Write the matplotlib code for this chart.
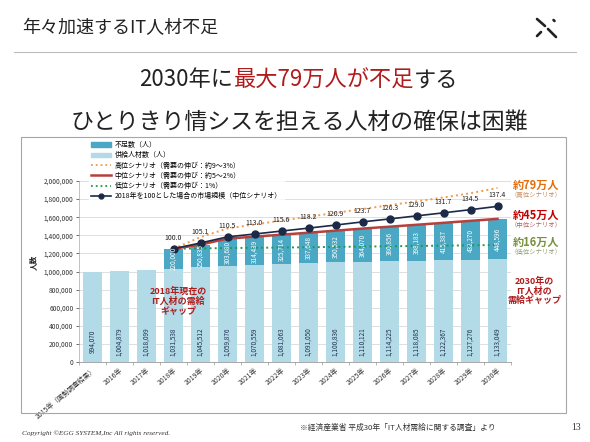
import matplotlib
matplotlib.use('Agg')
import matplotlib.pyplot as plt
from matplotlib.patches import Patch, Rectangle
from matplotlib.lines import Line2D
from matplotlib.ticker import FuncFormatter, FixedLocator

plt.rcParams['font.family'] = ['Noto Sans CJK JP', 'DejaVu Sans']

#data
years = ['2015年（国勢調査結果）', '2016年', '2017年', '2018年', '2019年', '2020年',
         '2021年', '2022年', '2023年', '2024年', '2025年', '2026年', '2027年',
         '2028年', '2029年', '2030年']
supply = [994070, 1004879, 1018099, 1031538, 1045512, 1059876, 1070559, 1081063,
          1091050, 1100836, 1110121, 1114225, 1118085, 1122367, 1127276, 1133049]
gap_start = 3   # shortage series starts at 2018
gap = [220000, 250835, 303680, 314439, 325714, 337648, 350532, 364070, 380856,
       398183, 415387, 432270, 448596]
high = [1251538, 1380000, 1475000, 1520000, 1562000, 1605000, 1648000, 1690000,
        1733000, 1775000, 1818000, 1865000, 1923000]
low = [1251538, 1255000, 1259000, 1262000, 1265000, 1268000, 1272000, 1275000,
       1279000, 1282000, 1286000, 1289000, 1293000]
market_idx = [100.0, 105.1, 110.5, 113.0, 115.6, 118.2, 120.9, 123.7, 126.3,
              129.0, 131.7, 134.5, 137.4]
market_base = 1251538   # 2018 = 100

#colors
c_gap = '#4aa8c4'
c_sup = '#b3dbe7'
c_high = '#f29a4a'
c_mid = '#b8403c'
c_low = '#1e9a50'
c_mkt = '#1c2a48'
c_red = '#b01c1c'

W, H = 590, 442
fig = plt.figure(figsize=(W / 100, H / 100), dpi=100)
def fx(px): return px / W
def fy(py): return 1 - py / H

#slide header
fig.text(fx(22), fy(28), '年々加速するIT人材不足', fontsize=13, color='#222', va='center')
fig.add_artist(Line2D([fx(14), fx(576)], [fy(52), fy(52)], color='#bbbbbb', lw=0.8))
for seg in [((537, 19), (545, 26)), ((553.5, 20), (554.5, 21)), ((537, 36), (541, 32)), ((548, 29), (556, 37))]:
    fig.add_artist(Line2D([fx(seg[0][0]), fx(seg[1][0])], [fy(seg[0][1]), fy(seg[1][1])],
                          color='#222', lw=1.9, solid_capstyle='round'))

#headline with red part
renderer = fig.canvas.get_renderer()
parts = [('2030年に', '#222'), ('最大79万人が不足', c_red), ('する', '#222')]
txts = [fig.text(0, fy(80), s, fontsize=16, color=c, va='center') for s, c in parts]
widths = [t.get_window_extent(renderer).width for t in txts]
x0 = 299 - sum(widths) / 2
for t, w in zip(txts, widths):
    t.set_x(fx(x0))
    x0 += w
fig.text(fx(299), fy(122), 'ひとりきり情シスを担える人材の確保は困難', fontsize=16.5,
         color='#222', ha='center', va='center')

#chart panel
fig.add_artist(Rectangle((fx(21), fy(413)), fx(545), 276 / H, transform=fig.transFigure,
                         fill=False, edgecolor='#a6a6a6', lw=0.8))

ax = fig.add_axes([fx(79), fy(362), fx(432), 181 / H])
x = list(range(len(years)))
xg = x[gap_start:]
ax.bar(x, supply, width=0.68, color=c_sup, zorder=2)
ax.bar(xg, gap, width=0.68, bottom=supply[gap_start:], color=c_gap, zorder=2)

mid = [s + g for s, g in zip(supply[gap_start:], gap)]
mkt = [market_base * v / 100 for v in market_idx]
ax.plot(xg, high, color=c_high, lw=1.4, ls=':', zorder=3)
ax.plot(xg, low, color=c_low, lw=1.4, ls=':', zorder=3)
ax.plot(xg, mid, color=c_mid, lw=1.8, zorder=4)
ax.plot(xg, mkt, color=c_mkt, lw=1.2, marker='o', ms=5, zorder=5)

for xi, v, m in zip(xg, market_idx, mkt):
    ax.annotate(f'{v:.1f}', (xi, m), xytext=(0, 5), textcoords='offset points',
                ha='center', va='bottom', fontsize=5, color='#222', zorder=6)
for xi, s in zip(x, supply):
    ax.text(xi, 225000, f'{s:,}', rotation=90, ha='center', va='center',
            fontsize=4.6, color='#1f3050', zorder=6)
for xi, s, g in zip(xg, supply[gap_start:], gap):
    ax.text(xi, s + g / 2, f'{g:,}', rotation=90, ha='center', va='center',
            fontsize=4.6, color='white', zorder=6)

ax.set_xlim(-0.5, len(years) - 0.5)
ax.set_ylim(0, 2000000)
ax.set_yticks(range(0, 2000001, 200000))
ax.yaxis.set_major_formatter(FuncFormatter(lambda v, p: f'{int(v):,}'))
ax.tick_params(axis='y', labelsize=4.8, colors='#333', length=2, width=0.5, pad=2)
ax.set_xticks(x)
ax.set_xticklabels(years, rotation=40, ha='right', rotation_mode='anchor', fontsize=4.9, color='#333')
ax.tick_params(axis='x', length=0, pad=3)
ax.xaxis.set_minor_locator(FixedLocator([i - 0.5 for i in range(len(years) + 1)]))
ax.tick_params(axis='x', which='minor', length=2, width=0.5, color='#999')
ax.grid(axis='y', color='#d9d9d9', lw=0.6, zorder=0)
ax.set_axisbelow(True)
for sp in ['top', 'right']:
    ax.spines[sp].set_visible(False)
ax.spines['left'].set_color('#aaaaaa')
ax.spines['bottom'].set_color('#999999')
ax.spines['left'].set_linewidth(0.5)
ax.spines['bottom'].set_linewidth(0.6)
fig.text(fx(33), fy(262), '人数', rotation=90, fontsize=5.5, fontweight='bold',
         ha='center', va='center', color='#222')

handles = [Patch(color=c_gap), Patch(color=c_sup),
           Line2D([], [], color=c_high, ls=':', lw=1.3),
           Line2D([], [], color=c_mid, lw=1.8),
           Line2D([], [], color=c_low, ls=':', lw=1.3),
           Line2D([], [], color=c_mkt, lw=1.2, marker='o', ms=3.5)]
labels = ['不足数（人）', '供給人材数（人）', '高位シナリオ（需要の伸び：約9～3%）',
          '中位シナリオ（需要の伸び：約5～2%）', '低位シナリオ（需要の伸び：1%）',
          '2018年を100とした場合の市場規模（中位シナリオ）']
leg = ax.legend(handles, labels, loc='upper left', bbox_to_anchor=(fx(89), fy(139)),
                bbox_transform=fig.transFigure, fontsize=5, frameon=True,
                handlelength=2.8, handleheight=0.6, labelspacing=0.32, handletextpad=0.6,
                borderpad=0.3, borderaxespad=0, fancybox=False)
leg.get_frame().set_facecolor('white')
leg.get_frame().set_edgecolor('white')
leg.set_zorder(7)

#annotations
for yy, big, small, c1, c2 in [(185, '約79万人', '（高位シナリオ）', '#e46c0a', '#c88a5a'),
                               (215, '約45万人', '（中位シナリオ）', '#c00000', '#b86060'),
                               (242, '約16万人', '（低位シナリオ）', '#76923c', '#90a070')]:
    fig.text(fx(536), fy(yy), big, fontsize=8, fontweight='bold', color=c1, ha='center', va='center')
    fig.text(fx(536), fy(yy + 10), small, fontsize=4.6, color=c2, ha='center', va='center')
fig.text(fx(534), fy(291), '2030年の\nIT人材の\n需給ギャップ', fontsize=6.5, fontweight='bold',
         color=c_red, ha='center', va='center', linespacing=1.05)
fig.text(fx(178), fy(301), '2018年現在の\nIT人材の需給\nギャップ', fontsize=6.5, fontweight='bold',
         color=c_red, ha='center', va='center', linespacing=1.05, zorder=10)

#footer
fig.text(fx(22), fy(433), 'Copyright ©EGG SYSTEM,Inc All rights reserved.', fontsize=5.2,
         family='Liberation Serif', style='italic', color='#333', va='center')
fig.text(fx(300), fy(428), '※経済産業省 平成30年「IT人材需給に関する調査」より', fontsize=5.6,
         color='#333', va='center')
fig.text(fx(576), fy(428), '13', fontsize=7, color='#333', ha='center', va='center',
         family='Liberation Serif')

fig.savefig('out.png', dpi=100)
